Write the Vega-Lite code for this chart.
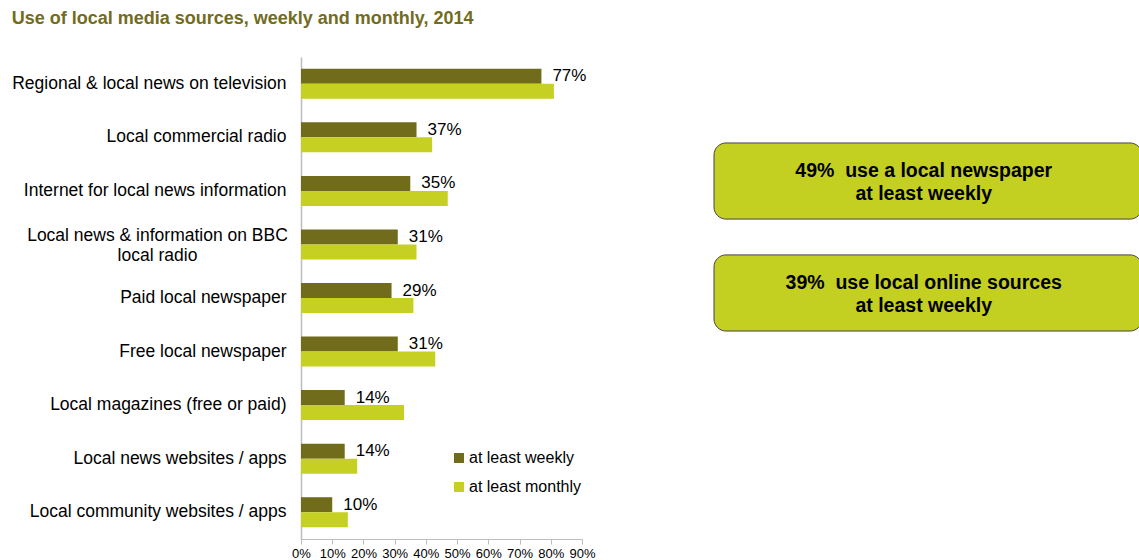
{
  "$schema": "https://vega.github.io/schema/vega-lite/v6.json",
  "padding": {"left": 11, "top": 10, "right": 0, "bottom": 0},
  "background": "white",
  "title": {
    "text": "Use of local media sources, weekly and monthly, 2014",
    "anchor": "start",
    "font": "Liberation Sans",
    "fontSize": 18,
    "fontWeight": "bold",
    "color": "#716c1e",
    "offset": 29
  },
  "config": {
    "view": {"stroke": null},
    "font": "Liberation Sans",
    "concat": {"spacing": 117}
  },
  "hconcat": [
    {
      "width": 281,
      "height": 482,
      "data": {
        "values": [
          {"source": "Regional & local news on television", "series": "at least weekly", "value": 0.77},
          {"source": "Regional & local news on television", "series": "at least monthly", "value": 0.81},
          {"source": "Local commercial radio", "series": "at least weekly", "value": 0.37},
          {"source": "Local commercial radio", "series": "at least monthly", "value": 0.42},
          {"source": "Internet for local news information", "series": "at least weekly", "value": 0.35},
          {"source": "Internet for local news information", "series": "at least monthly", "value": 0.47},
          {"source": "Local news & information on BBC local radio", "series": "at least weekly", "value": 0.31},
          {"source": "Local news & information on BBC local radio", "series": "at least monthly", "value": 0.37},
          {"source": "Paid local newspaper", "series": "at least weekly", "value": 0.29},
          {"source": "Paid local newspaper", "series": "at least monthly", "value": 0.36},
          {"source": "Free local newspaper", "series": "at least weekly", "value": 0.31},
          {"source": "Free local newspaper", "series": "at least monthly", "value": 0.43},
          {"source": "Local magazines (free or paid)", "series": "at least weekly", "value": 0.14},
          {"source": "Local magazines (free or paid)", "series": "at least monthly", "value": 0.33},
          {"source": "Local news websites / apps", "series": "at least weekly", "value": 0.14},
          {"source": "Local news websites / apps", "series": "at least monthly", "value": 0.18},
          {"source": "Local community websites / apps", "series": "at least weekly", "value": 0.10},
          {"source": "Local community websites / apps", "series": "at least monthly", "value": 0.15}
        ]
      },
      "encoding": {
        "y": {
          "field": "source",
          "type": "nominal",
          "sort": null,
          "title": null,
          "scale": {"paddingInner": 0.44, "paddingOuter": 0.22},
          "axis": {
            "ticks": false,
            "domainColor": "#bdbdbd",
            "domainWidth": 1.5,
            "labelFontSize": 17.5,
            "labelColor": "#000000",
            "labelPadding": {"condition": {"test": "datum.value == 'Local news & information on BBC local radio'", "value": 144}, "value": 15},
            "labelAlign": {"condition": {"test": "datum.value == 'Local news & information on BBC local radio'", "value": "center"}, "value": "right"},
            "labelOffset": {"condition": {"test": "datum.value == 'Local news & information on BBC local radio'", "value": -8}, "value": 0},
            "labelLimit": 500,
            "labelLineHeight": 20,
            "labelExpr": "datum.label == 'Local news & information on BBC local radio' ? ['Local news & information on BBC', 'local radio'] : datum.label"
          }
        },
        "x": {
          "field": "value",
          "type": "quantitative",
          "title": null,
          "scale": {"domain": [0, 0.9]},
          "axis": {
            "values": [0, 0.1, 0.2, 0.3, 0.4, 0.5, 0.6, 0.7, 0.8, 0.9],
            "format": ".0%",
            "labelOverlap": false,
            "labelFlush": false,
            "grid": false,
            "domainColor": "#bdbdbd",
            "tickColor": "#bdbdbd",
            "tickSize": 5,
            "labelFontSize": 13,
            "labelColor": "#000000",
            "labelPadding": 3
          }
        },
        "yOffset": {
          "field": "series",
          "type": "nominal",
          "scale": {"domain": ["at least weekly", "at least monthly"]}
        }
      },
      "layer": [
        {
          "mark": {"type": "bar"},
          "encoding": {
            "color": {
              "field": "series",
              "type": "nominal",
              "scale": {"domain": ["at least weekly", "at least monthly"], "range": ["#716b1c", "#c5d022"]},
              "legend": {
                "orient": "none",
                "legendX": 150,
                "legendY": 393,
                "title": null,
                "symbolType": "square",
                "symbolSize": 100,
                "symbolStrokeWidth": 0,
                "labelFontSize": 16,
                "labelColor": "#000000",
                "rowPadding": 13,
                "labelOffset": 2
              }
            }
          }
        },
        {
          "transform": [{"filter": "datum.series == 'at least weekly'"}],
          "mark": {"type": "text", "align": "left", "baseline": "middle", "dx": 11, "fontSize": 17, "color": "#000000"},
          "encoding": {
            "text": {"field": "value", "type": "quantitative", "format": ".0%"}
          }
        }
      ]
    },
    {
      "width": 428,
      "height": 360,
      "data": {
        "values": [
          {"box": "newspaper", "statement": "49%\u00a0\u00a0use a local newspaper\nat least weekly"},
          {"box": "online", "statement": "39%\u00a0\u00a0use local online sources\nat least weekly"}
        ]
      },
      "encoding": {
        "y": {
          "field": "box",
          "type": "nominal",
          "sort": null,
          "axis": null,
          "scale": {"paddingInner": 0.32, "paddingOuter": 0.768}
        }
      },
      "layer": [
        {
          "mark": {"type": "bar", "color": "#c3cf21", "stroke": "#444444", "strokeWidth": 1, "cornerRadius": 12},
          "encoding": {
            "x": {"datum": 0, "type": "quantitative", "scale": {"domain": [0, 1]}, "axis": null},
            "x2": {"datum": 1}
          }
        },
        {
          "mark": {"type": "text", "lineBreak": "\n", "align": "center", "baseline": "middle", "dy": -10, "fontSize": 19.5, "fontWeight": "bold", "lineHeight": 23, "color": "#000000"},
          "encoding": {
            "x": {"datum": 0.49, "type": "quantitative"},
            "text": {"field": "statement", "type": "nominal"}
          }
        }
      ]
    }
  ]
}
